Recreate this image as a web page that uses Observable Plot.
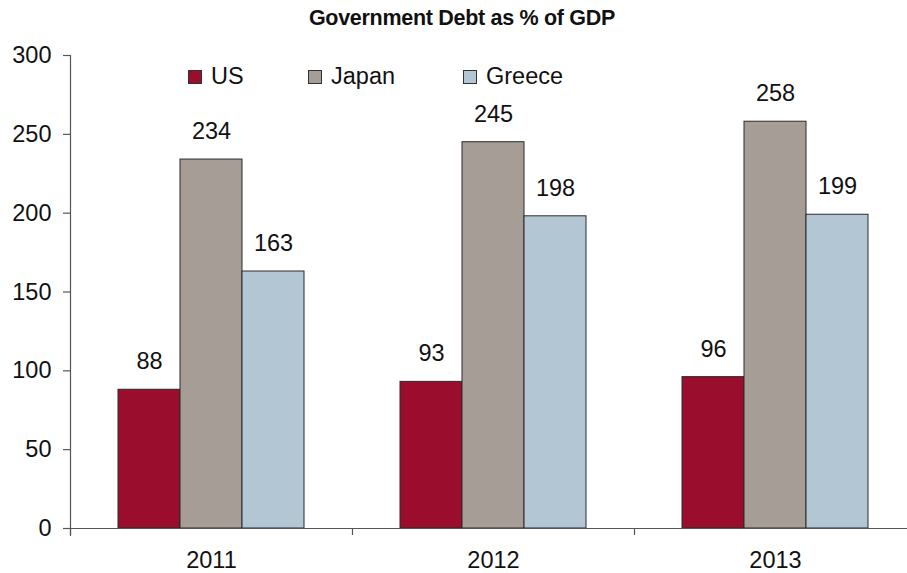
<!DOCTYPE html>
<html>
<head>
<meta charset="utf-8">
<script src="https://cdn.jsdelivr.net/npm/d3@7"></script>
<script src="https://cdn.jsdelivr.net/npm/@observablehq/plot@0.6"></script>
<style>
  html, body { margin: 0; padding: 0; background: #fff; }
  #wrap { position: relative; width: 907px; height: 573px; overflow: hidden; font-family: "Liberation Sans", Arial, sans-serif; color: #111; }
  #title { position: absolute; top: 6px; left: 0; width: 924px; text-align: center; font-weight: bold; font-size: 21.5px; letter-spacing: -0.3px; }
  #chart { position: absolute; top: 38px; left: 0; }
  #legend { position: absolute; top: 63px; left: 188px; display: flex; align-items: center; font-size: 23.5px; }
  .item { display: flex; align-items: center; }
  .item:nth-child(1) { width: 120px; }
  .item:nth-child(2) { width: 155px; }
  .sw { width: 12px; height: 12px; border: 1px solid #333; margin-right: 9px; }
</style>
</head>
<body>
<div id="wrap">
  <div id="title">Government Debt as % of GDP</div>
  <div id="chart"></div>
  <div id="legend"></div>
</div>
<script>
const years = ["2011", "2012", "2013"];
const countries = ["US", "Japan", "Greece"];
const usValues = [88, 93, 96];
const japanValues = [234, 245, 258];
const greeceValues = [163, 198, 199];
const colors = ["#9b0d2c", "#a69d96", "#b3c6d4"];
const yTicks = [0, 50, 100, 150, 200, 250, 300];

const series = {US: usValues, Japan: japanValues, Greece: greeceValues};
const data = [];
years.forEach((y, i) => countries.forEach(c => data.push({year: y, country: c, value: series[c][i]})));

const chart = Plot.plot({
  width: 907,
  height: 535,
  marginLeft: 70,
  marginRight: 0,
  marginTop: 17,
  marginBottom: 45,
  style: {fontFamily: "'Liberation Sans', Arial, sans-serif", fontSize: "23.5px", color: "#111", background: "transparent"},
  fx: {domain: years, range: [70, 916], paddingInner: 0, paddingOuter: 0, label: null},
  x: {domain: countries, paddingInner: 0, paddingOuter: 0.75, axis: null},
  y: {domain: [0, 300], label: null},
  color: {domain: countries, range: colors},
  marks: [
    Plot.barY(data, {fx: "year", x: "country", y: "value", fill: "country", stroke: "#2a2a2a", strokeWidth: 1}),
    Plot.text(data, {fx: "year", x: "country", y: "value", text: d => String(d.value), dy: -28, fill: "#111"}),
    Plot.frame({anchor: "bottom", facet: "super", stroke: "#555", strokeWidth: 1.2}),
    Plot.frame({anchor: "left", facet: "super", insetBottom: -7, stroke: "#555", strokeWidth: 1.2}),
    Plot.axisY({ticks: yTicks, tickSize: 7, tickPadding: 12, stroke: "#555", strokeWidth: 1.2, label: null, fill: "#111"}),
    Plot.axisFx({anchor: "bottom", tickSize: 0, tickPadding: 23, label: null, fill: "#111"}),
    Plot.axisFx({anchor: "bottom", tickSize: 7, tickFormat: () => "", dx: -141, label: null, stroke: "#555", strokeWidth: 1.2})
  ]
});
document.getElementById("chart").appendChild(chart);

const legend = document.getElementById("legend");
countries.forEach((c, i) => {
  const item = document.createElement("div");
  item.className = "item";
  const sw = document.createElement("div");
  sw.className = "sw";
  sw.style.background = colors[i];
  const t = document.createElement("span");
  t.textContent = c;
  item.appendChild(sw);
  item.appendChild(t);
  legend.appendChild(item);
});
</script>
</body>
</html>
